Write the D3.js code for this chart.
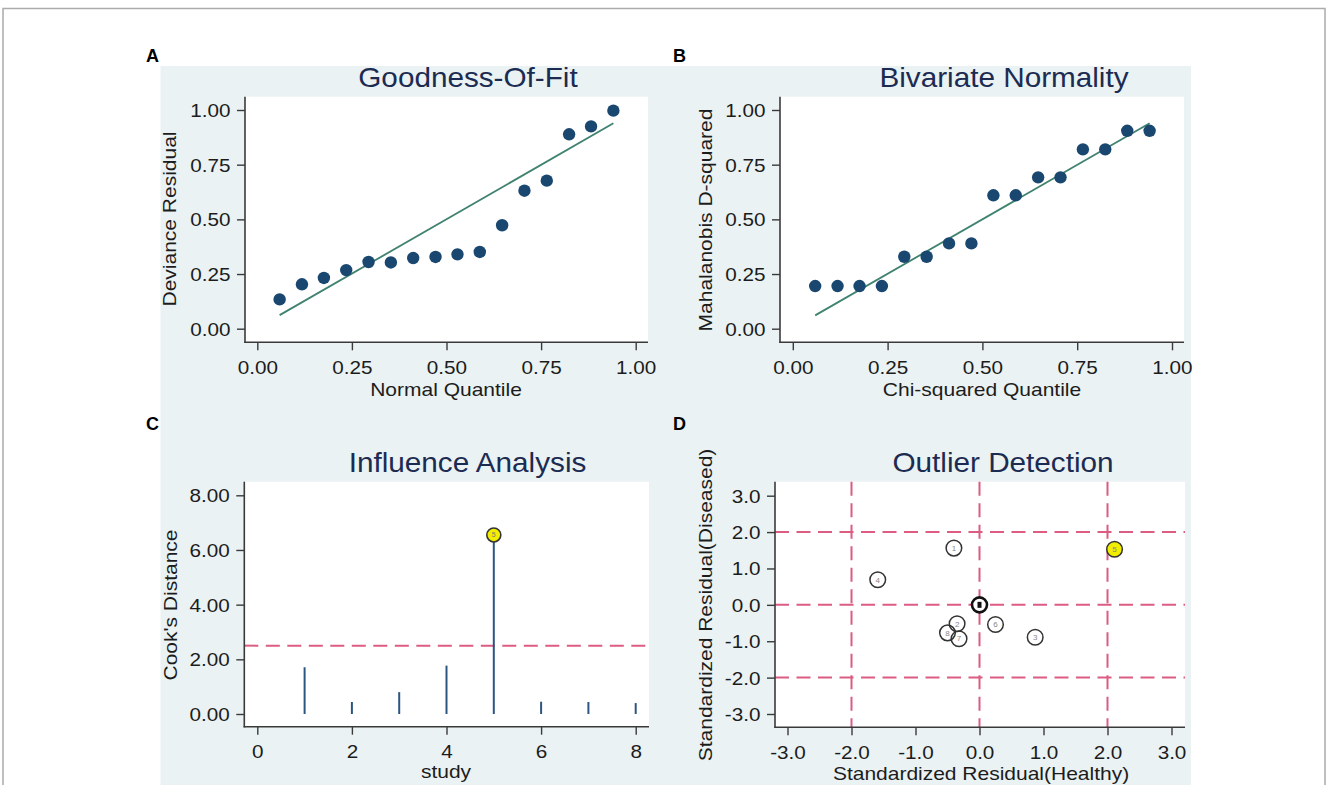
<!DOCTYPE html>
<html><head><meta charset="utf-8">
<script src="https://cdn.jsdelivr.net/npm/d3@7"></script>
<style>
html,body{margin:0;padding:0;background:#fff;}
svg{display:block;font-family:"Liberation Sans",Arial,Helvetica,sans-serif;}
</style>
</head><body>
<svg id="chart" width="1328" height="785"></svg>
<script>
// ---------------- DATA ----------------
const quantilesA = [0.059,0.118,0.176,0.235,0.294,0.353,0.412,0.471,0.529,0.588,0.647,0.706,0.765,0.824,0.882,0.941];
const devianceResidual = [0.134,0.203,0.232,0.268,0.305,0.303,0.323,0.328,0.340,0.351,0.473,0.631,0.677,0.889,0.925,0.997];
const fitLineA = [[0.059,0.062],[0.941,0.939]];

const quantilesB = [0.059,0.118,0.176,0.235,0.294,0.353,0.412,0.471,0.529,0.588,0.647,0.706,0.765,0.824,0.882,0.941];
const mahalanobisD2 = [0.195,0.195,0.195,0.195,0.329,0.329,0.390,0.390,0.610,0.610,0.692,0.692,0.820,0.820,0.905,0.905];
const fitLineB = [[0.059,0.061],[0.941,0.939]];

const studies = [1,2,3,4,5,6,7,8];
const cooksDistance = [1.71,0.44,0.80,1.77,6.55,0.45,0.44,0.40];
const cooksThreshold = [2.5];
const influentialStudy = 5;

const residHealthy  = [-0.40,-0.35,0.87,-1.59,2.11,0.25,-0.32,-0.50];
const residDiseased = [1.56,-0.52,-0.89,0.69,1.53,-0.54,-0.93,-0.77];
const outlierStudy = 5;
const residCenter = [0,0];
const residRefLines = [-2,0,2];

const ticksUnit = [0,0.25,0.5,0.75,1];
const ticksCook = [0,2,4,6,8];
const ticksStudy = [0,2,4,6,8];
const ticksResid = [-3,-2,-1,0,1,2,3];

const titles = ["Goodness-Of-Fit","Bivariate Normality","Influence Analysis","Outlier Detection"];
const xTitles = ["Normal Quantile","Chi-squared Quantile","study","Standardized Residual(Healthy)"];
const yTitles = ["Deviance Residual","Mahalanobis D-squared","Cook's Distance","Standardized Residual(Diseased)"];
const panelLetters = ["A","B","C","D"];

// ---------------- STYLE ----------------
const NAVY = "#1a476f", GREEN = "#3f8270", PINK = "#dc5c82", AXIS = "#3a3a3a", TXT = "#1c1c1c";
const TITLE_COL = "#1c2b52";
const SX = 1.15;      // horizontal stretch of original text rendering

const svg = d3.select("#chart");

// outer frame and graph background
svg.append("rect").attr("x",3).attr("y",8.5).attr("width",1322).attr("height",800)
  .attr("fill","#fff").attr("stroke","#ababab").attr("stroke-width",1.5);
svg.append("rect").attr("x",160.5).attr("y",66).attr("width",1030.5).attr("height",720).attr("fill","#eaf2f3");

function label(sel, x, y, s, size, o={}) {
  const t = sel.append("text")
    .attr("transform", `translate(${x},${y})${o.rot?` rotate(${o.rot})`:""} scale(${o.sx||1},1)`)
    .attr("text-anchor", o.anchor||"middle").attr("font-size", size)
    .attr("fill", o.fill||TXT).text(s);
  if (o.bold) t.attr("font-weight","bold");
  return t;
}

function panel(cfg) {
  const g = svg.append("g");
  g.append("rect").attr("x",cfg.left).attr("y",cfg.top)
    .attr("width",cfg.right-cfg.left).attr("height",cfg.bottom-cfg.top).attr("fill","#fff");
  const x = d3.scaleLinear().domain(cfg.xd).range(cfg.xr);
  const y = d3.scaleLinear().domain(cfg.yd).range(cfg.yr);
  const plot = g.append("g");
  cfg.draw(plot, x, y, cfg);

  // axes
  const ya = d3.axisLeft(y).tickValues(cfg.yt).tickFormat(cfg.yf).tickSize(8).tickPadding(6);
  const gy = g.append("g").attr("transform",`translate(${cfg.left},0)`).call(ya)
    .attr("font-family",null).attr("font-size",null);
  gy.select(".domain").remove();
  gy.selectAll(".tick line").attr("stroke",AXIS).attr("stroke-width",1.4);
  gy.selectAll(".tick text").attr("x",null).attr("dy","0.36em")
    .attr("transform",`translate(-14.5,0) scale(${SX},1)`).attr("font-size",18).attr("fill",TXT);

  const xa = d3.axisBottom(x).tickValues(cfg.xt).tickFormat(cfg.xf).tickSize(8).tickPadding(cfg.xpad);
  const gx = g.append("g").attr("transform",`translate(0,${cfg.bottom})`).call(xa)
    .attr("font-family",null).attr("font-size",null);
  gx.select(".domain").remove();
  gx.selectAll(".tick line").attr("stroke",AXIS).attr("stroke-width",1.4);
  gx.selectAll(".tick text").attr("transform",`scale(${SX},1)`).attr("font-size",18).attr("fill",TXT);

  g.append("line").attr("x1",cfg.left).attr("x2",cfg.left).attr("y1",cfg.top).attr("y2",cfg.bottom+0.7)
    .attr("stroke",AXIS).attr("stroke-width",1.6);
  g.append("line").attr("x1",cfg.left-0.7).attr("x2",cfg.right).attr("y1",cfg.bottom).attr("y2",cfg.bottom)
    .attr("stroke",AXIS).attr("stroke-width",1.6);

  // texts
  label(g, cfg.titleX, cfg.titleY, cfg.title, 27.5, {sx:1.08, fill:TITLE_COL});
  label(g, cfg.xtX, cfg.xtY, cfg.xTitle, 17.5, {sx:1.2});
  label(g, cfg.ytX, cfg.ytY, cfg.yTitle, 17.5, {sx:1.2, rot:-90});
  label(g, cfg.letX, cfg.letY, cfg.letter, 18, {bold:true, anchor:"start", fill:"#000"});
}

const f2 = d => d.toFixed(2), f1 = d => d.toFixed(1), f0 = d => String(d);

function qqDraw(xs, ys, line) {
  return (p, x, y) => {
    p.append("line").attr("x1",x(line[0][0])).attr("y1",y(line[0][1]))
      .attr("x2",x(line[1][0])).attr("y2",y(line[1][1]))
      .attr("stroke",GREEN).attr("stroke-width",1.8);
    p.selectAll("circle.pt").data(xs).join("circle").attr("class","pt")
      .attr("cx",d=>x(d)).attr("cy",(d,i)=>y(ys[i])).attr("r",6.2).attr("fill",NAVY);
  };
}

// Panel A
panel({letter:panelLetters[0], letX:146, letY:62,
  left:245, right:648, top:96.7, bottom:342.3,
  xd:[0,1], xr:[257.3,635.7], yd:[0,1], yr:[328.7,110],
  xt:ticksUnit, yt:ticksUnit, xf:f2, yf:f2, xpad:11,
  title:titles[0], titleX:468, titleY:87,
  xTitle:xTitles[0], xtX:446, xtY:395.5,
  yTitle:yTitles[0], ytX:175.5, ytY:219,
  draw: qqDraw(quantilesA, devianceResidual, fitLineA)});

// Panel B
panel({letter:panelLetters[1], letX:673, letY:62,
  left:780, right:1184, top:96.7, bottom:342.3,
  xd:[0,1], xr:[792.8,1172], yd:[0,1], yr:[328.7,110],
  xt:ticksUnit, yt:ticksUnit, xf:f2, yf:f2, xpad:11,
  title:titles[1], titleX:1004, titleY:87,
  xTitle:xTitles[1], xtX:982, xtY:395.5,
  yTitle:yTitles[1], ytX:712, ytY:220,
  draw: qqDraw(quantilesB, mahalanobisD2, fitLineB)});

// Panel C
panel({letter:panelLetters[2], letX:146, letY:429.5,
  left:244.3, right:649, top:481.7, bottom:726.7,
  xd:[0,8], xr:[257.3,635.7], yd:[0,8], yr:[714,495.3],
  xt:ticksStudy, yt:ticksCook, xf:f0, yf:f2, xpad:10.5,
  title:titles[2], titleX:467.5, titleY:472,
  xTitle:xTitles[2], xtX:446, xtY:778,
  yTitle:yTitles[2], ytX:176.5, ytY:605,
  draw:(p,x,y)=>{
    p.selectAll("line.ref").data(cooksThreshold).join("line").attr("class","ref")
      .attr("x1",244.3).attr("x2",649).attr("y1",d=>y(d)).attr("y2",d=>y(d))
      .attr("stroke",PINK).attr("stroke-width",2).attr("stroke-dasharray","14,7.5");
    p.selectAll("line.sp").data(studies).join("line").attr("class","sp")
      .attr("x1",d=>x(d)).attr("x2",d=>x(d)).attr("y1",y(0)).attr("y2",(d,i)=>y(cooksDistance[i]))
      .attr("stroke","#2c5682").attr("stroke-width",2);
    const i5 = studies.indexOf(influentialStudy);
    p.append("circle").attr("cx",x(influentialStudy)).attr("cy",y(cooksDistance[i5])).attr("r",7)
      .attr("fill","#f2ee00").attr("stroke","#333").attr("stroke-width",1.6);
    p.append("text").attr("x",x(influentialStudy)).attr("y",y(cooksDistance[i5])+2.5)
      .attr("text-anchor","middle").attr("font-size",7).attr("fill","#777").text(influentialStudy);
  }});

// Panel D
panel({letter:panelLetters[3], letX:673, letY:429.5,
  left:775, right:1185, top:481.7, bottom:727.3,
  xd:[-3,3], xr:[787.5,1171.5], yd:[-3,3], yr:[714,495.7],
  xt:ticksResid, yt:ticksResid, xf:f1, yf:f1, xpad:10.5,
  title:titles[3], titleX:1003, titleY:472,
  xTitle:xTitles[3], xtX:981, xtY:780,
  yTitle:yTitles[3], ytX:711.5, ytY:605,
  draw:(p,x,y)=>{
    p.selectAll("line.h").data(residRefLines).join("line").attr("class","h")
      .attr("x1",775).attr("x2",1185).attr("y1",d=>y(d)).attr("y2",d=>y(d))
      .attr("stroke",PINK).attr("stroke-width",2).attr("stroke-dasharray","14,7.5");
    p.selectAll("line.v").data(residRefLines).join("line").attr("class","v")
      .attr("y1",481.7).attr("y2",727.3).attr("x1",d=>x(d)).attr("x2",d=>x(d))
      .attr("stroke",PINK).attr("stroke-width",2).attr("stroke-dasharray","14,7.5");
    // centre point
    p.append("circle").attr("cx",x(residCenter[0])).attr("cy",y(residCenter[1])).attr("r",7.5)
      .attr("fill","#fff").attr("stroke","#111").attr("stroke-width",2.6);
    p.append("rect").attr("x",x(residCenter[0])-2).attr("y",y(residCenter[1])-3).attr("width",4).attr("height",6).attr("fill","#111");
    const pts = studies.map((s,i)=>({s, hx:residHealthy[i], dy:residDiseased[i]}));
    const gp = p.selectAll("g.pt").data(pts).join("g").attr("class","pt")
      .attr("transform",d=>`translate(${x(d.hx)},${y(d.dy)})`);
    gp.append("circle").attr("r",7.8)
      .attr("fill",d=>d.s===outlierStudy?"#f2ee00":"none")
      .attr("stroke","#333").attr("stroke-width",1.5);
    gp.append("text").attr("y",2.8).attr("text-anchor","middle").attr("font-size",8)
      .attr("fill","#888").text(d=>d.s);
  }});
</script>
</body></html>
